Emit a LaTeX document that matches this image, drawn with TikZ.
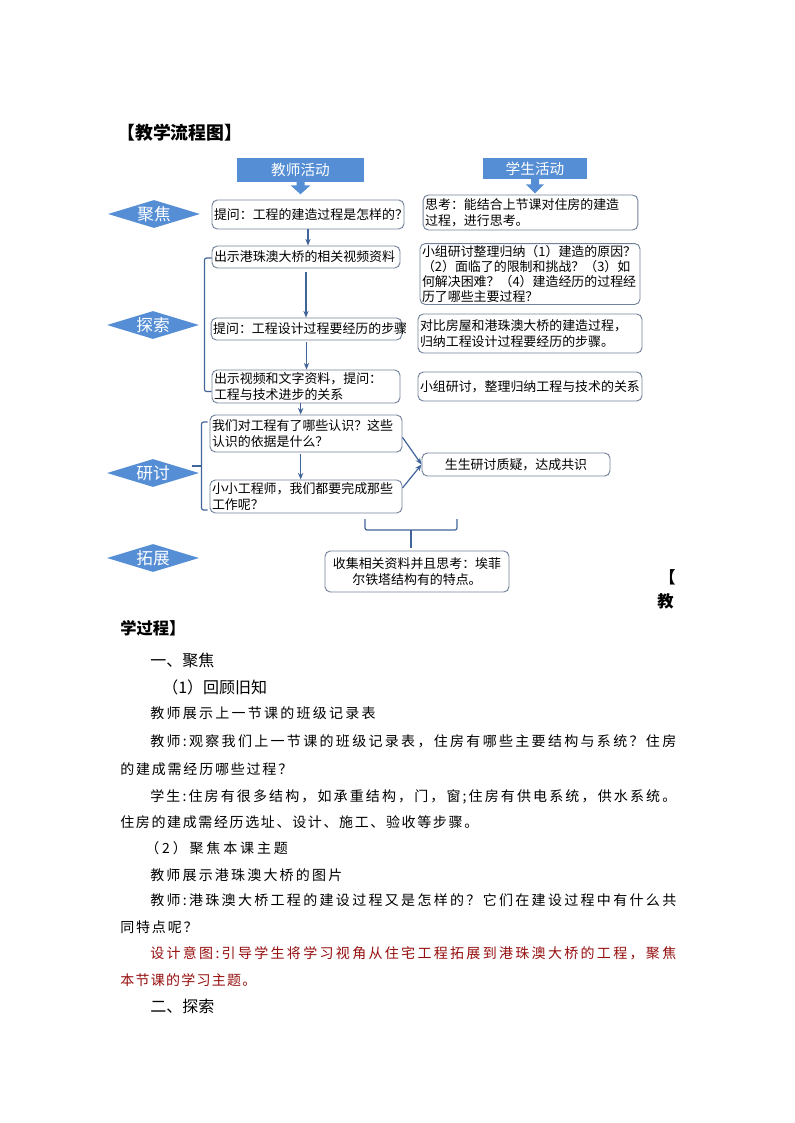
\documentclass[tikz,border=0pt]{standalone}
\usepackage{fontspec}
\setmainfont{Noto Sans CJK SC}
\usepackage{tikz}
\usepackage{xcolor}
\usetikzlibrary{arrows.meta, calc, shapes.geometric}

\definecolor{stageblue}{RGB}{85,142,213}
\definecolor{boxline}{RGB}{115,130,155}
\definecolor{flowline}{RGB}{65,100,155}
\definecolor{noteRed}{RGB}{150,15,15}

% one line of body text, spread evenly over a given width
\newcommand\spreadline[2]{\hbox to #1{\spreadfirst#2\relax}}
\def\spreadfirst#1{#1\spreadnext}
\def\spreadnext#1{\ifx#1\relax\else\hskip 0pt plus 1fil#1\expandafter\spreadnext\fi}

\tikzset{
  stage/.style={diamond, aspect=3.3, fill=stageblue, text=white, inner sep=0pt,
                minimum width=69pt, minimum height=21pt, font=\fontsize{12.5}{13}\selectfont},
  header/.style={rectangle, fill=stageblue, text=white, inner sep=0pt,
                 font=\fontsize{11}{12}\selectfont},
  actbox/.style={draw=boxline, line width=0.7pt, rounded corners=4pt, fill=white,
                 inner sep=1.5pt, align=left, font=\fontsize{9.7}{12}\selectfont},
  flow/.style={draw=flowline, line width=0.9pt, -{Stealth[length=5pt,width=4pt]}},
  bracket/.style={draw=flowline, line width=0.9pt, rounded corners=1.5pt},
  bodytext/.style={anchor=west, inner sep=0pt, font=\fontsize{10.5}{12}\selectfont},
  headtext/.style={anchor=west, inner sep=0pt, font=\fontsize{12}{13}\selectfont},
}

\begin{document}
\begin{tikzpicture}[x=0.75pt, y=-0.75pt]
    \fill[white] (0,0) rectangle (794,1123);
    \useasboundingbox (0,0) rectangle (794,1123);

    \node[anchor=west, inner sep=0pt, font=\bfseries\fontsize{13.4}{14}\selectfont] (title) at (117,133) {【教学流程图】};

    % column headers
    \node[header, minimum width=95.25pt, minimum height=18pt] (th) at (300.5,170) {教师活动};
    \node[header, minimum width=78pt, minimum height=15.75pt] (sh) at (535,168.5) {学生活动};
    \fill[stageblue] ($(th.south)+(-4,-0.5)$) -- ++(0,3.5) -- ++(-6,0) -- ($(th.south)+(0,12)$)
        -- ++(10,-9) -- ++(-6,0) -- ++(0,-3.5) -- cycle;
    \fill[stageblue] ($(sh.south)+(-4,-0.5)$) -- ++(0,5.5) -- ++(-5,0) -- ($(sh.south)+(0,14)$)
        -- ++(9,-9) -- ++(-5,0) -- ++(0,-5.5) -- cycle;

    % stages
    \node[stage] (focus) at (154,214) {聚焦};
    \node[stage] (explore) at (153,325) {探索};
    \node[stage] (discuss) at (153,473) {研讨};
    \node[stage] (extend) at (153,558) {拓展};

    % teacher activities
    \node[actbox, text width=141pt, minimum height=21.75pt] (q1) at (308,214.5) {提问：工程的建造过程是怎样的？};
    \node[actbox, text width=138pt, minimum height=16.5pt] (t2) at (306,257) {出示港珠澳大桥的相关视频资料};
    \node[actbox, text width=140pt, minimum height=16.5pt] (t3) at (306.5,329) {提问：工程设计过程要经历的步骤};
    \node[actbox, text width=138pt, minimum height=24.75pt] (t4) at (306,386.5) {出示视频和文字资料，提问：\\工程与技术进步的关系};
    \node[actbox, text width=141pt, minimum height=27.75pt] (t5) at (306,433.5) {我们对工程有了哪些认识？这些\\认识的依据是什么？};
    \node[actbox, text width=141pt, minimum height=24.75pt] (t6) at (306,496.5) {小小工程师，我们都要完成那些\\工作呢？};

    % student activities
    \node[actbox, text width=158pt, minimum height=26.25pt] (s1) at (530.5,212.5) {思考：能结合上节课对住房的建造\\过程，进行思考。};
    \node[actbox, text width=162pt, minimum height=45pt, font=\fontsize{9.7}{11.2}\selectfont] (s2) at (530,274) {小组研讨整理归纳（1）建造的原因？\\（2）面临了的限制和挑战？（3）如\\何解决困难？（4）建造经历的过程经\\历了哪些主要过程？};
    \node[actbox, text width=165pt, minimum height=29.25pt] (s3) at (530,333.5) {对比房屋和港珠澳大桥的建造过程，\\归纳工程设计过程要经历的步骤。};
    \node[actbox, text width=165pt, minimum height=21.75pt] (s4) at (530,386.5) {小组研讨，整理归纳工程与技术的关系};
    \node[actbox, text width=138pt, minimum height=17.25pt, align=center] (s5) at (516,464.5) {生生研讨质疑，达成共识};
    \node[actbox, text width=135pt, minimum height=30.75pt, align=center] (e1) at (417,571.5) {收集相关资料并且思考：埃菲\\尔铁塔结构有的特点。};

    % connectors
    \draw[flow] (q1.south) -- (q1.south |- t2.north);
    \draw[flow, shorten <=3pt] (t2.south) -- (t2.south |- t3.north);
    \draw[flow, shorten <=1pt] (t3.south) -- (t3.south |- t4.north);
    \draw[flow] ([xshift=-4pt]t4.south) -- ([xshift=-4pt]t4.south |- t5.north);
    \draw[flow, shorten <=1pt] ([xshift=-4pt]t5.south) -- ([xshift=-4pt]t5.south |- t6.north);
    \draw[flow] ($(t5.north east)!0.6!(t5.south east)$) -- (s5.west);
    \draw[flow] ($(t6.north east)!0.25!(t6.south east)$) -- (s5.west);

    % brackets
    \draw[bracket] ($(t2.west)+(0,1)$) -- ++(-7,0) |- ($(t4.west)+(0,5)$);
    \draw[bracket] ($(t5.west)+(-2,-11.5)$) -- ++(-6,0) |- ($(t6.west)+(-2,13.5)$);
    \draw[bracket] ($(t5.west)!0.5!(t6.west)+(-8,1)$) -- ++(-10,0);
    \coordinate (bl) at (365,519);
    \coordinate (br) at (457,519);
    \coordinate (bm) at (411,530);
    \draw[bracket] (bl) |- (bm) -| (br);
    \draw[bracket, shorten >=2.25pt] (bm) -- (bm |- e1.north);

    % teaching process text
    \node[anchor=east, inner sep=0pt, font=\bfseries\fontsize{12.2}{13}\selectfont] (p1) at (676,577) {【};
    \node[anchor=east, inner sep=0pt, font=\bfseries\fontsize{12.2}{13}\selectfont] (p2) at (674,601) {教};
    \node[anchor=west, inner sep=0pt, font=\bfseries\fontsize{12.2}{13}\selectfont] (p3) at (120,628) {学过程】};

    \node[headtext] (h1) at (150,660) {一、聚焦};
    \node[headtext] (h2) at (162,687) {（1）回顾旧知};
    \node[bodytext] (l1) at (150,713) {\spreadline{169pt}{教师展示上一节课的班级记录表}};
    \node[bodytext] (l2) at (150,741) {\spreadline{394.5pt}{教师:观察我们上一节课的班级记录表，住房有哪些主要结构与系统？住房}};
    \node[bodytext] (l3) at (120,769) {\spreadline{129pt}{的建成需经历哪些过程？}};
    \node[bodytext] (l4) at (150,797) {\spreadline{394.5pt}{学生:住房有很多结构，如承重结构，门，窗;住房有供电系统，供水系统。}};
    \node[bodytext] (l5) at (120,822) {\spreadline{268.5pt}{住房的建成需经历选址、设计、施工、验收等步骤。}};
    \node[bodytext] (l6) at (145,848) {\spreadline{107pt}{（2）聚焦本课主题}};
    \node[bodytext] (l7) at (150,875) {\spreadline{144pt}{教师展示港珠澳大桥的图片}};
    \node[bodytext] (l8) at (150,900) {\spreadline{394.5pt}{教师:港珠澳大桥工程的建设过程又是怎样的？它们在建设过程中有什么共}};
    \node[bodytext] (l9) at (120,927) {\spreadline{58pt}{同特点呢？}};
    \node[bodytext, text=noteRed] (l10) at (150,953) {\spreadline{394.5pt}{设计意图:引导学生将学习视角从住宅工程拓展到港珠澳大桥的工程，聚焦}};
    \node[bodytext, text=noteRed] (l11) at (120,980) {\spreadline{102pt}{本节课的学习主题。}};
    \node[headtext] (h3) at (150,1006) {二、探索};
\end{tikzpicture}
\end{document}
